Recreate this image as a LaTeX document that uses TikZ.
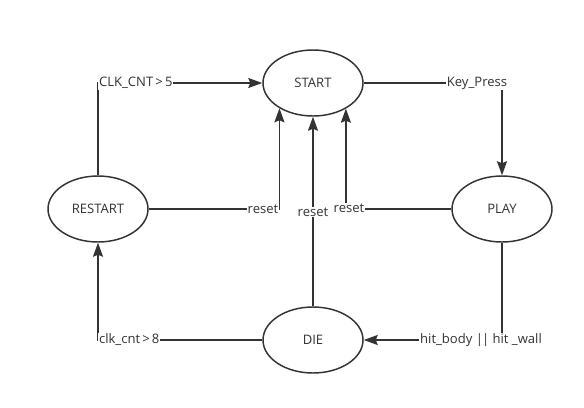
\documentclass[tikz,border=0pt]{standalone}
\usepackage{fontspec}
\setmainfont{Open Sans}
\usetikzlibrary{shapes.geometric,arrows.meta}
\definecolor{ink}{HTML}{333333}
\begin{document}
\begin{tikzpicture}[x=0.75pt,y=-0.75pt,
  font=\fontsize{9.8pt}{11pt}\selectfont,
  state/.style={ellipse,draw=ink,line width=1.1pt,minimum width=75pt,minimum height=49.5pt,inner sep=0pt,text=ink},
  wire/.style={draw=ink,line width=1.1pt},
  arr/.style={wire,-{Stealth[length=10.5pt,width=7.5pt,inset=1.5pt]}},
  lbl/.style={fill=white,inner sep=0.6pt,text=ink}]
\useasboundingbox (0,0) rectangle (584,407);
\fill[white] (0,0) rectangle (584,407);

% states
\node[state] (start)   at (313,83)  {START};
\node[state] (restart) at (98,209)  {RESTART};
\node[state] (play)    at (502,209) {PLAY};
\node[state] (die)     at (313,340) {DIE};

% transitions
\draw[arr] (restart.east) -| (start.217.5);
\draw[arr] (restart.north) |- (start.west);
\draw[arr] (start.east) -| (play.north);
\draw[arr] (die.north) -- (start.south);
\draw[arr] (play.west) -| (start.322.5);
\draw[arr] (play.south) |- (die.east);
\draw[arr] (die.west) -| (restart.south);

% transition labels
\node[lbl,anchor=west] (l1) at (98,83) {CLK\_CNT\,>\,5};
\node[lbl] (l2) at (477,83) {Key\_Press};
\node[lbl] (l3) at (263,209) {reset};
\node[lbl] (l4) at (313,212) {reset};
\node[lbl] (l5) at (349,208) {reset};
\node[lbl] (l6) at (481,340) {hit\_body \textbar\kern-0.8pt\textbar\ hit \_wall};
\node[lbl,anchor=west] (l7) at (98,340) {clk\_cnt\,>\,8};
\end{tikzpicture}
\end{document}
